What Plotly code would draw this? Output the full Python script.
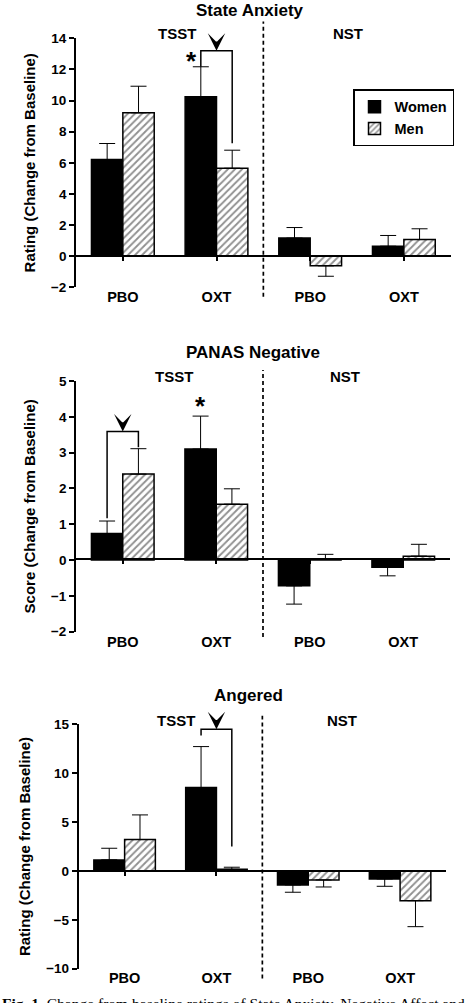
import plotly.graph_objects as go

# categories (same for every panel)
conditions = ["TSST", "NST"]
drug_labels = ["PBO", "OXT", "PBO", "OXT"]
sexes = ["Women", "Men"]

# State Anxiety
anx_women = [6.21, 10.24, 1.16, 0.64]
anx_women_se = [1.03, 1.93, 0.68, 0.69]
anx_men = [9.21, 5.65, -0.62, 1.07]
anx_men_se = [1.71, 1.16, 0.67, 0.69]

# PANAS Negative
pan_women = [0.74, 3.10, -0.72, -0.20]
pan_women_se = [0.35, 0.92, 0.51, 0.24]
pan_men = [2.40, 1.56, 0.02, 0.11]
pan_men_se = [0.71, 0.43, 0.14, 0.33]

# Angered
ang_women = [1.13, 8.53, -1.43, -0.82]
ang_women_se = [1.19, 4.19, 0.75, 0.75]
ang_men = [3.21, 0.17, -0.92, -3.04]
ang_men_se = [2.52, 0.21, 0.72, 2.66]

W, H = 474, 1003
FONT = "Liberation Sans, Arial, sans-serif"


def px(x):
    return x / W


def py(y):
    return 1 - y / H


panels = [
    dict(title="State Anxiety", ytitle="Rating (Change from Baseline)",
         women=anx_women, women_se=anx_women_se, men=anx_men, men_se=anx_men_se,
         yrange=[-2, 14], dtick=2, xdom=[76, 450.7], ydom=[38.3, 287.3], zero=256,
         title_xy=(250, 10), tsst_x=177, nst_x=365, cond_y=33, standoff=24,
         dash=[-0.038, 1.067],
         bracket=dict(left=1, right=1, lsex=0, rsex=1, level=13.2, lgap=0.0, rgap=0.45),
         star=dict(cat=1, dx=-0.1, y=12.55)),
    dict(title="PANAS Negative", ytitle="Score (Change from Baseline)",
         women=pan_women, women_se=pan_women_se, men=pan_men, men_se=pan_men_se,
         yrange=[-2, 5], dtick=1, xdom=[76, 450], ydom=[381, 631.7], zero=559.3,
         title_xy=(253, 352), tsst_x=174, nst_x=362, cond_y=376, standoff=66,
         dash=[-0.021, 1.044],
         bracket=dict(left=0, right=0, lsex=0, rsex=1, level=3.59, lgap=0.15, rgap=0.08),
         star=dict(cat=1, dx=0.0, y=4.3)),
    dict(title="Angered", ytitle="Rating (Change from Baseline)",
         women=ang_women, women_se=ang_women_se, men=ang_men, men_se=ang_men_se,
         yrange=[-10, 15], dtick=5, xdom=[78.7, 446], ydom=[724.3, 968.7], zero=871,
         title_xy=(248, 695), tsst_x=176, nst_x=359, cond_y=720, standoff=90,
         dash=[-0.04, 1.035],
         bracket=dict(left=1, right=1, lsex=0, rsex=1, level=14.5, lgap=0.45, rgap=0.85),
         star=None),
]

BARGAP = 0.33
half = (1 - BARGAP) / 4  # offset of each bar centre from category centre

fig = go.Figure()
annotations = []
shapes = []
cats = list(range(len(drug_labels)))

for i, p in enumerate(panels):
    n = "" if i == 0 else str(i + 1)
    for s, sex in enumerate(sexes):
        vals = p["women"] if s == 0 else p["men"]
        se = p["women_se"] if s == 0 else p["men_se"]
        up = [e if v >= 0 else 0 for v, e in zip(vals, se)]
        dn = [e if v < 0 else 0 for v, e in zip(vals, se)]
        if s == 0:
            marker = dict(color="black", line=dict(color="black", width=1.5))
        else:
            marker = dict(color="white", line=dict(color="black", width=1.5),
                          pattern=dict(shape="/", fgcolor="#222", bgcolor="white",
                                       size=5, solidity=0.38))
        fig.add_trace(go.Bar(
            x=cats, y=vals, name=sex, marker=marker,
            xaxis="x" + n, yaxis="y" + n, showlegend=(i == 0),
            error_y=dict(type="data", symmetric=False, array=up, arrayminus=dn,
                         color="black", thickness=1, width=8),
        ))

    xd = [px(p["xdom"][0]), px(p["xdom"][1])]
    yd = [py(p["ydom"][1]), py(p["ydom"][0])]
    fig.layout["xaxis" + n] = dict(
        domain=xd, anchor="free", position=py(p["zero"]), range=[-0.5, 3.5],
        tickvals=cats, ticktext=drug_labels, ticks="outside", ticklen=4,
        tickwidth=1.5, tickcolor="black", showline=True, linecolor="black",
        linewidth=1.5, showgrid=False, zeroline=False, automargin=False,
        tickfont=dict(family=FONT, size=14.5, color="black", weight="bold"),
        ticklabelstandoff=p["standoff"],
    )
    fig.layout["yaxis" + n] = dict(
        domain=yd, anchor="x" + n, range=p["yrange"], dtick=p["dtick"],
        ticks="outside", ticklen=5, tickwidth=1.8, tickcolor="black",
        showline=True, linecolor="black", linewidth=1.8, showgrid=False,
        zeroline=False, automargin=False,
        tickfont=dict(family=FONT, size=13.5, color="black", weight="bold"),
        title=dict(text=p["ytitle"], standoff=12,
                   font=dict(family=FONT, size=15, color="black", weight="bold")),
    )

    # panel title and condition labels
    annotations.append(dict(text=p["title"], x=px(p["title_xy"][0]), y=py(p["title_xy"][1]),
                            xref="paper", yref="paper", showarrow=False, yanchor="middle",
                            font=dict(family=FONT, size=17, color="black", weight="bold")))
    for cond, cx in zip(conditions, [p["tsst_x"], p["nst_x"]]):
        annotations.append(dict(text=cond, x=px(cx), y=py(p["cond_y"]),
                                xref="paper", yref="paper", showarrow=False, yanchor="middle",
                                font=dict(family=FONT, size=15, color="black", weight="bold")))

    # dashed divider between TSST and NST
    shapes.append(dict(type="line", xref="x" + n + " domain", yref="y" + n + " domain",
                       x0=0.5, x1=0.5, y0=p["dash"][0], y1=p["dash"][1],
                       line=dict(color="black", width=1.7, dash="4px,3px")))

    # significance bracket with arrowhead
    b = p["bracket"]
    series = [(p["women"], p["women_se"]), (p["men"], p["men_se"])]
    lx = b["left"] + (-half if b["lsex"] == 0 else half)
    rx = b["right"] + (-half if b["rsex"] == 0 else half)
    lv, le = series[b["lsex"]][0][b["left"]], series[b["lsex"]][1][b["left"]]
    rv, re_ = series[b["rsex"]][0][b["right"]], series[b["rsex"]][1][b["right"]]
    ly = lv + le + b["lgap"] * p["dtick"] / 2
    ry = rv + re_ + b["rgap"] * p["dtick"] / 2
    lvl = b["level"]
    shapes.append(dict(type="path", xref="x" + n, yref="y" + n,
                       path=f"M{lx},{ly} V{lvl} H{rx} V{ry}",
                       line=dict(color="black", width=1.5)))
    annotations.append(dict(text="", x=(lx + rx) / 2, y=lvl, xref="x" + n, yref="y" + n,
                            showarrow=True, ax=0, ay=-8, arrowhead=3, arrowsize=2.9,
                            arrowwidth=1, arrowcolor="black", font=dict(size=1)))

    if p["star"]:
        st = p["star"]
        annotations.append(dict(text="*", x=st["cat"] - half + st["dx"], y=st["y"],
                                xref="x" + n, yref="y" + n, showarrow=False,
                                yanchor="middle",
                                font=dict(family=FONT, size=26, color="black", weight="bold")))

# caption (cut off at the bottom of the page)
annotations.append(dict(
    text="<b>Fig. 1.</b> Change from baseline ratings of State Anxiety, Negative Affect and",
    x=0, y=py(993), xref="paper", yref="paper", xanchor="left", yanchor="top",
    showarrow=False, font=dict(family="Liberation Serif, Times New Roman, serif",
                               size=15.5, color="black")))

fig.update_layout(
    width=W, height=H, margin=dict(l=0, r=0, t=0, b=0, autoexpand=False),
    paper_bgcolor="white", plot_bgcolor="white",
    barmode="group", bargap=BARGAP, bargroupgap=0,
    annotations=annotations, shapes=shapes,
    legend=dict(x=px(353), y=py(89.3), xanchor="left", yanchor="top",
                bordercolor="black", borderwidth=1.5, bgcolor="white",
                font=dict(family=FONT, size=14.5, color="black", weight="bold"),
                tracegroupgap=0),
    font=dict(family=FONT, color="black"),
)

# drop the browser's default 8px page margin so the figure fills the window
fig.write_html("out.html", config={"displayModeBar": False},
               post_script="document.body.style.margin='0';")
